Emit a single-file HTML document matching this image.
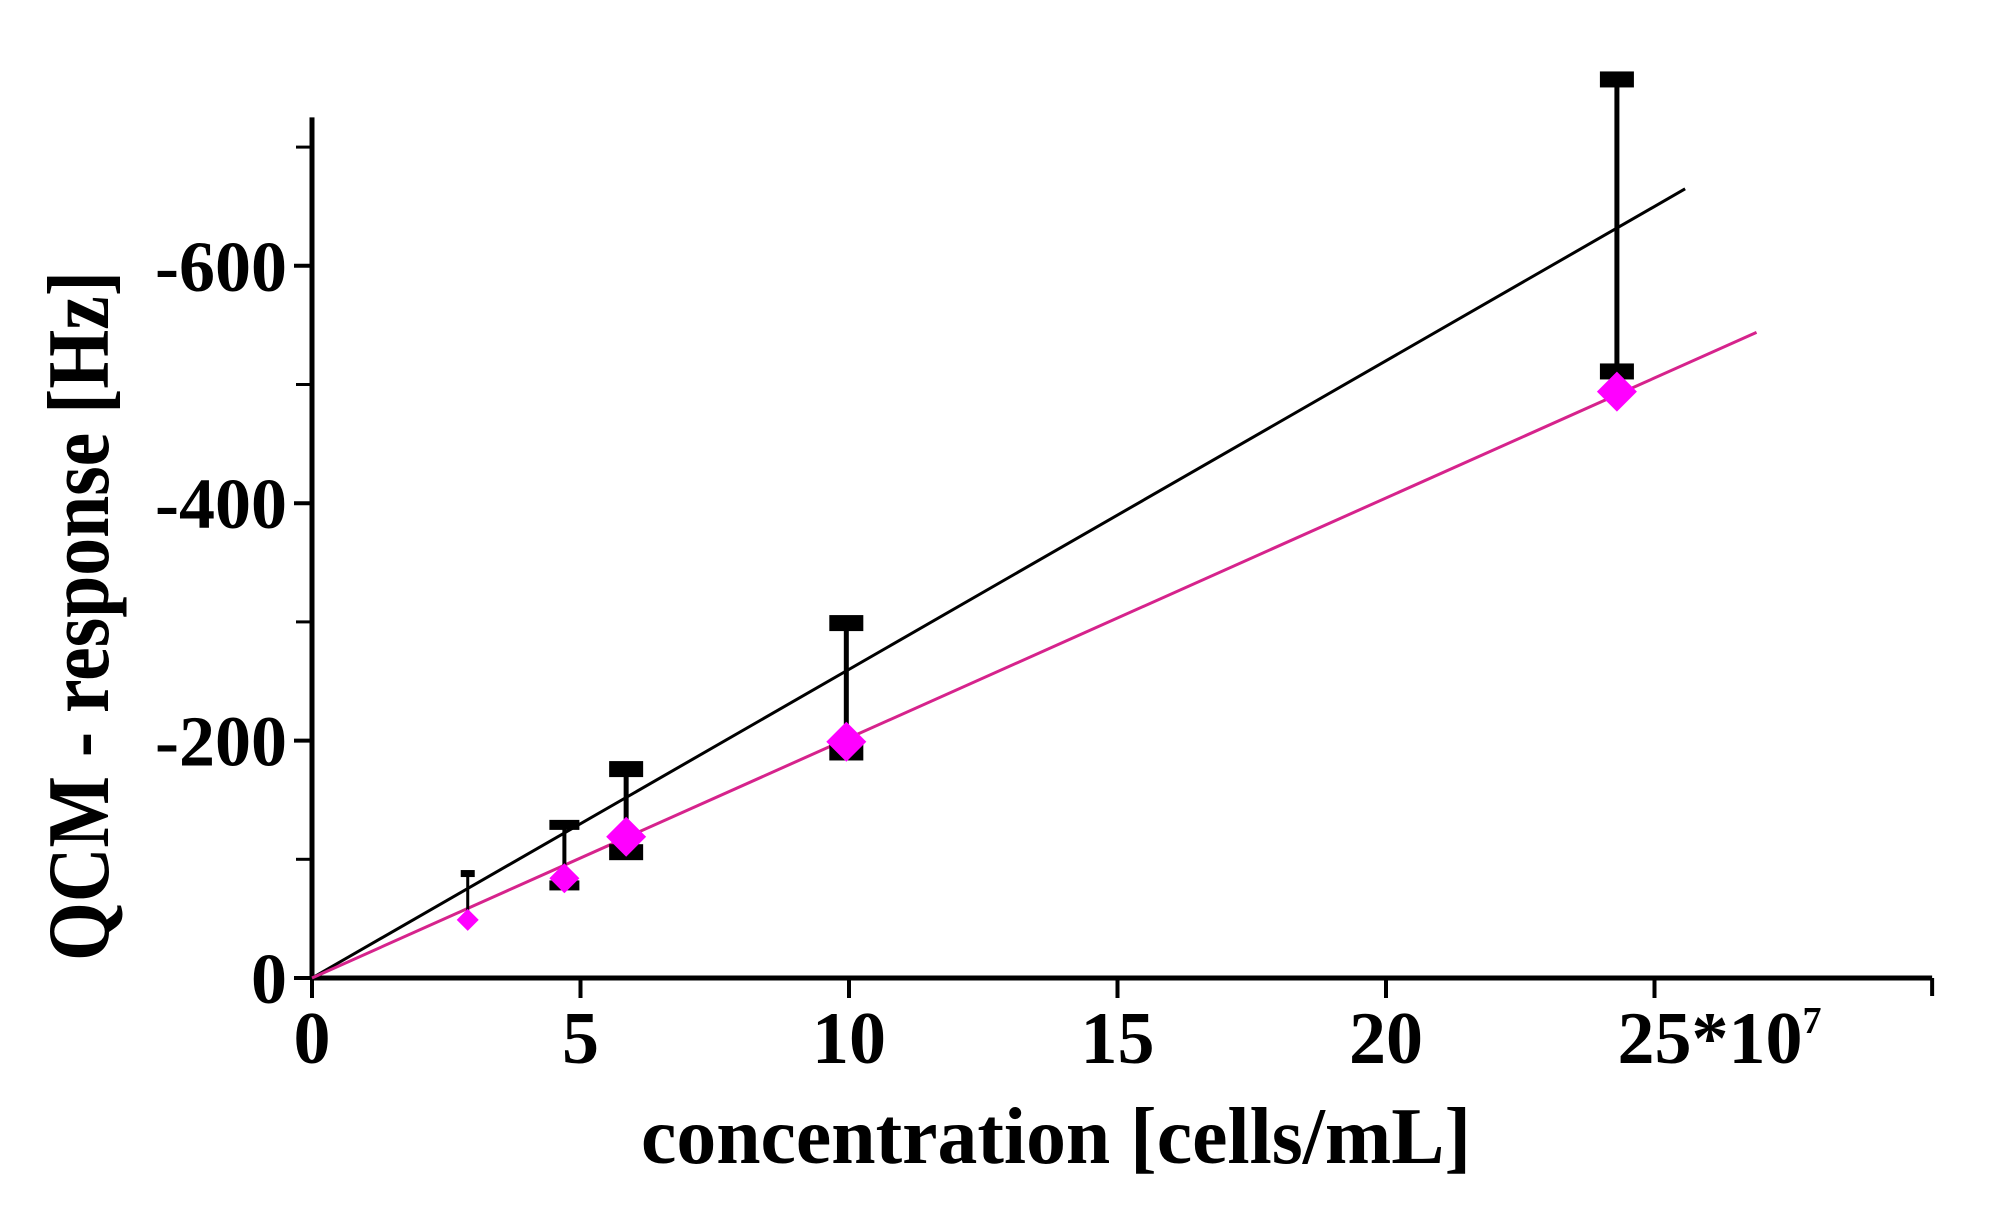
<!DOCTYPE html>
<html><head><meta charset="utf-8"><style>
html,body{margin:0;padding:0;background:#fff;}
svg{display:block;font-family:"Liberation Serif",serif;font-weight:bold;}
</style></head><body>
<svg id="chart" width="1991" height="1207" viewBox="0 0 1991 1207" xmlns="http://www.w3.org/2000/svg">
<g id="axes"></g>
<g id="fits"></g>
<g id="marks"></g>
<text x="641" y="1163" font-size="80" textLength="830" lengthAdjust="spacingAndGlyphs">concentration [cells/mL]</text>
<text transform="translate(108,616) rotate(-90)" text-anchor="middle" font-size="88" textLength="690" lengthAdjust="spacingAndGlyphs">QCM - response [Hz]</text>
</svg>
<script>
const xCats = [2.9, 4.7, 5.85, 9.95, 24.3];
const meanVals = [-49, -84, -119, -199, -494];
const lowerVals = [-49, -78, -106, -190, -511];
const upperVals = [-88, -129, -176, -299, -757];
const xTicks = [0, 5, 10, 15, 20, 25];
const xTickLabels = ["0", "5", "10", "15", "20", "25*10"];
const yMajor = [0, -200, -400, -600];
const yMajorLabels = ["0", "-200", "-400", "-600"];
const yMinor = [-100, -300, -500, -700];
const fitBlack = [0, 25.57, -26.0];
const fitMagenta = [0, 26.9, -20.22];

const NS = "http://www.w3.org/2000/svg";
const X0 = 312, XU = 53.7, Y0 = 978, YU = 1.187;
function sx(v){ return X0 + v * XU; }
function sy(v){ return Y0 + v * YU; }
function mk(tag, attrs, parent){
  const e = document.createElementNS(NS, tag);
  for (const k in attrs) e.setAttribute(k, attrs[k]);
  parent.appendChild(e); return e;
}
const axes = document.getElementById('axes');
const fits = document.getElementById('fits');
const marks = document.getElementById('marks');

let a = mk('line', {x1: sx(0), y1: sy(-725), x2: sx(0), y2: sy(0)+2, stroke:'#000','stroke-width':5}, axes);


a = mk('line', {x1: sx(0)-2, y1: sy(0), x2: sx(30.17), y2: sy(0), stroke:'#000','stroke-width':5}, axes);


a = mk('line', {x1: sx(30.17), y1: sy(0), x2: sx(30.17), y2: sy(0)+18, stroke:'#000','stroke-width':4}, axes);



xTicks.forEach((v, i) => {
  const t = mk('line', {x1: sx(v), y1: sy(0), x2: sx(v), y2: sy(0)+20, stroke:'#000','stroke-width':4}, axes);
  
  
  const lab = mk('text', {x: sx(v), y: 1063, 'font-size': 74, 'text-anchor': i === xTicks.length-1 ? 'start' : 'middle'}, axes);
  if (i === xTicks.length-1) {
    lab.setAttribute('x', sx(v) - 37);
    lab.textContent = xTickLabels[i];
    const sup = mk('tspan', {dy: -30, 'font-size': 38}, lab);
    sup.textContent = '7';
  } else {
    lab.textContent = xTickLabels[i];
  }
  
  
});
yMajor.forEach((v, i) => {
  const t = mk('line', {x1: sx(0)-18, y1: sy(v), x2: sx(0), y2: sy(v), stroke:'#000','stroke-width':4}, axes);
  
  
  const lab = mk('text', {x: 287, y: sy(v)+25, 'font-size': 72, 'text-anchor':'end'}, axes);
  lab.textContent = yMajorLabels[i];
  
  
});
yMinor.forEach(v => {
  const t = mk('line', {x1: sx(0)-16, y1: sy(v), x2: sx(0), y2: sy(v), stroke:'#000','stroke-width':3}, axes);
  
  
});

let f = mk('line', {x1: sx(fitBlack[0]), y1: sy(0), x2: sx(fitBlack[1]), y2: sy(fitBlack[1]*fitBlack[2]), stroke:'#000','stroke-width':3}, fits);


f = mk('line', {x1: sx(fitMagenta[0]), y1: sy(0), x2: sx(fitMagenta[1]), y2: sy(fitMagenta[1]*fitMagenta[2]), stroke:'#d6238c','stroke-width':3}, fits);



xCats.forEach((x, i) => {
  const cx = sx(x);
  const big = i >= 2;
  const w = i === 0 ? 14 : (big ? 34 : 30);
  const h = i === 0 ? 7 : (big ? 16 : 10);
  const sw = i === 0 ? 3 : (big ? 5 : 4);
  const bar = mk('line', {x1: cx, y1: sy(lowerVals[i]), x2: cx, y2: sy(upperVals[i]), stroke:'#000','stroke-width':sw}, marks);
  
  
  const cap = mk('rect', {x: cx-w/2, y: sy(upperVals[i])-h/2, width: w, height: h, fill:'#000'}, marks);
  
  
  const lo = mk('rect', {x: cx-w/2, y: sy(lowerVals[i])-h/2, width: w, height: h, fill:'#000'}, marks);
  
  
  const cy = sy(meanVals[i]);
  const r = i === 0 ? 11 : (i === 1 ? 15 : 20);
  const d = mk('polygon', {points: `${cx},${cy-r} ${cx+r},${cy} ${cx},${cy+r} ${cx-r},${cy}`, fill:'#ff00ff'}, marks);
  
  
});
</script>
</body></html>
